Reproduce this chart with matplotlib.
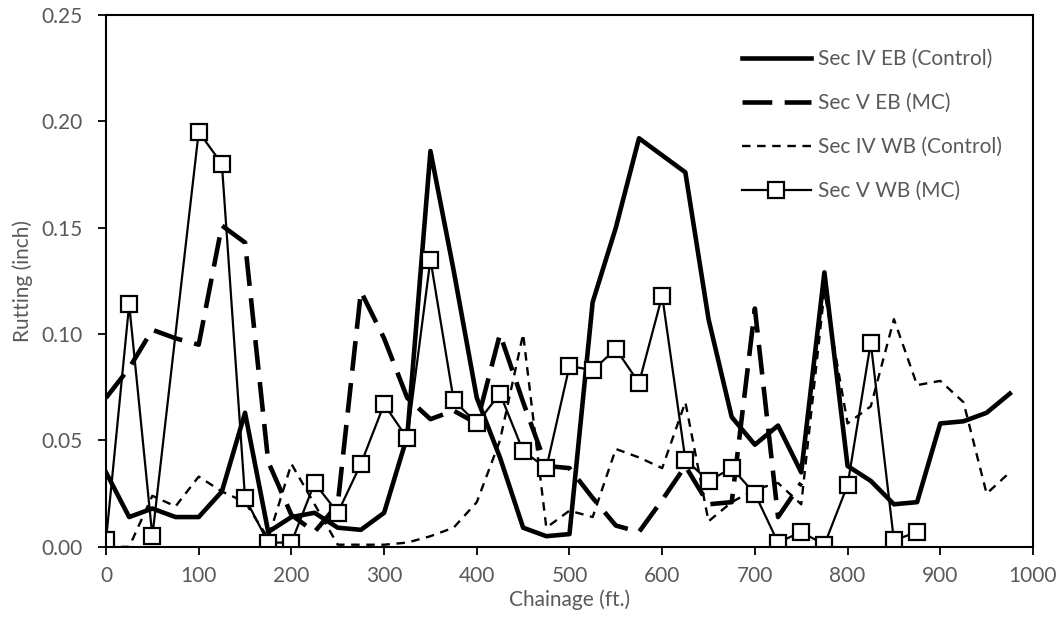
import numpy as np
import matplotlib
matplotlib.use("Agg")
import matplotlib.pyplot as plt

plt.rcParams['font.family'] = ['Lato', 'DejaVu Sans']

# chainage in ft, one reading every 25 ft
chainage = list(range(0, 1000, 25))

sec4_eb = [0.035, 0.014, 0.018, 0.014, 0.014, 0.026, 0.063, 0.007, 0.014, 0.016,
           0.009, 0.008, 0.016, 0.052, 0.186, 0.130, 0.070, 0.042, 0.009, 0.005,
           0.006, 0.115, 0.150, 0.192, 0.184, 0.176, 0.107, 0.061, 0.048, 0.057,
           0.035, 0.129, 0.038, 0.031, 0.020, 0.021, 0.058, 0.059, 0.063, 0.072]

sec5_eb = [0.070, 0.084, 0.102, 0.098, 0.095, 0.151, 0.143, 0.040, 0.015, 0.007,
           0.020, 0.120, 0.098, 0.070, 0.060, 0.064, 0.058, 0.100, 0.068, 0.038,
           0.037, 0.023, 0.010, 0.007, 0.022, 0.038, 0.020, 0.021, 0.112, 0.014,
           0.030, None, None, None, None, None, None, None, None, None]

sec4_wb = [0.000, 0.000, 0.024, 0.019, 0.033, 0.026, 0.021, 0.004, 0.039, 0.020,
           0.001, 0.001, 0.001, 0.002, 0.005, 0.009, 0.021, 0.050, 0.100, 0.009,
           0.017, 0.014, 0.046, 0.042, 0.037, 0.068, 0.012, 0.021, 0.027, 0.030,
           0.020, 0.120, 0.058, 0.066, 0.107, 0.076, 0.078, 0.068, 0.025, 0.035]

sec5_wb = [0.003, 0.114, 0.005, None, 0.195, 0.180, 0.023, 0.002, 0.002, 0.030,
           0.016, 0.039, 0.067, 0.051, 0.135, 0.069, 0.058, 0.072, 0.045, 0.037,
           0.085, 0.083, 0.093, 0.077, 0.118, 0.041, 0.031, 0.037, 0.025, 0.002,
           0.007, 0.001, 0.029, 0.096, 0.003, 0.007, None, None, None, None]

labels = ["Sec IV EB (Control)", "Sec V EB (MC)", "Sec IV WB (Control)", "Sec V WB (MC)"]


def clean(xs, ys):
    x = np.array(xs, dtype=float)
    y = np.array([np.nan if v is None else v for v in ys], dtype=float)
    ok = np.isfinite(y)
    return x[ok], y[ok]


fig = plt.figure(figsize=(10.6, 6.2), dpi=100)
ax = fig.add_axes([0.100, 0.118, 0.8745, 0.858])

x, y = clean(chainage, sec4_eb)
ax.plot(x, y, color='black', lw=3.3, label=labels[0])
x, y = clean(chainage, sec5_eb)
ax.plot(x, y, color='black', lw=3.3, dashes=(6.5, 2.7), label=labels[1])
x, y = clean(chainage, sec4_wb)
ax.plot(x, y, color='black', lw=1.7, dashes=(3.6, 2.8), label=labels[2])
x, y = clean(chainage, sec5_wb)
ax.plot(x, y, color='black', lw=1.6, marker='s', ms=11, mfc='white',
        mec='black', mew=1.6, label=labels[3])

ax.set_xlim(0, 1000)
ax.set_ylim(0, 0.25)
ax.set_xticks(np.arange(0, 1001, 100))
ax.set_yticks(np.arange(0, 0.251, 0.05))
ax.yaxis.set_major_formatter(matplotlib.ticker.FormatStrFormatter('%.2f'))

grey = '#595959'
ax.tick_params(axis='both', direction='out', length=6, width=1.3,
               labelsize=15, labelcolor=grey, colors='black')
ax.tick_params(axis='y', pad=11)
ax.tick_params(axis='x', pad=8)
ax.tick_params(top=False, right=False)
for s in ax.spines.values():
    s.set_linewidth(1.5)
    s.set_color('black')

ax.set_xlabel("Chainage (ft.)", fontsize=15, color=grey, labelpad=2)
ax.set_ylabel("Rutting (inch)", fontsize=15, color=grey, labelpad=6)

leg = ax.legend(loc='upper left', bbox_to_anchor=(0.686, 0.936), frameon=False,
                fontsize=15, handlelength=3.3, handletextpad=0.33,
                labelspacing=1.15, borderaxespad=0, borderpad=0)
for t in leg.get_texts():
    t.set_color(grey)

fig.savefig("out.png", dpi=100)
